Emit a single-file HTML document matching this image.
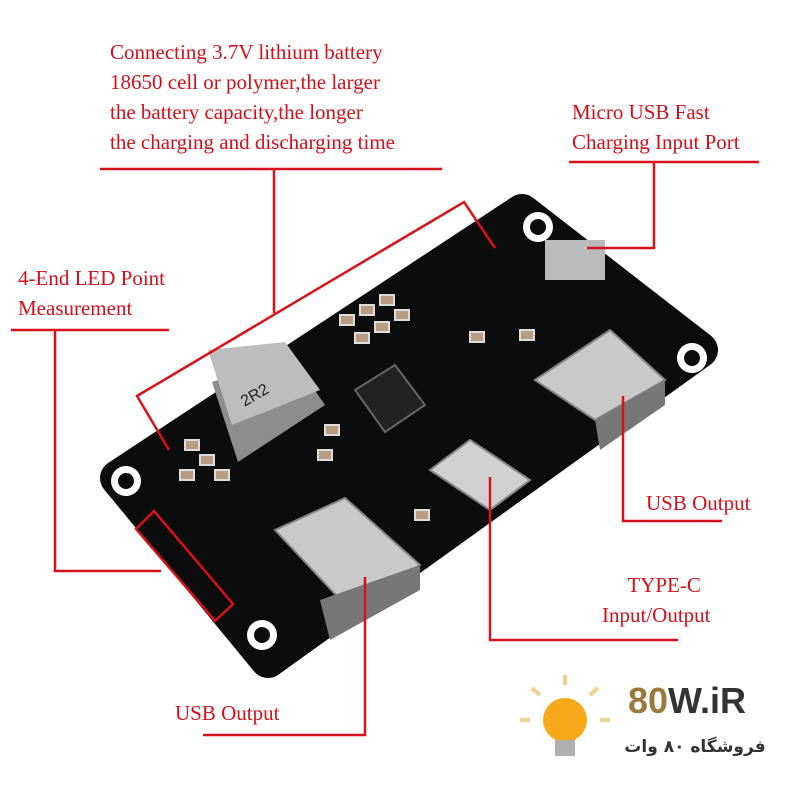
<!DOCTYPE html>
<html><head><meta charset="utf-8"><style>
body{margin:0;background:#fff;width:800px;height:800px;overflow:hidden;position:relative;font-family:"Liberation Serif",serif}
.t{position:absolute;color:#d40f18;font-size:21px;line-height:30px;white-space:nowrap}
</style></head><body>
<svg width="800" height="800" style="position:absolute;left:0;top:0">
<polygon points="522,212 700,350 268,660 118,478" fill="#0c0c0c" stroke="#0c0c0c" stroke-width="36" stroke-linejoin="round"/>
<g fill="#fff"><circle cx="538" cy="227" r="15"/><circle cx="692" cy="358" r="15"/><circle cx="262" cy="635" r="15"/><circle cx="126" cy="481" r="15"/></g>
<g fill="#0c0c0c"><circle cx="538" cy="227" r="8"/><circle cx="692" cy="358" r="8"/><circle cx="262" cy="635" r="8"/><circle cx="126" cy="481" r="8"/></g>
<polygon points="212,382 290,355 325,405 238,462" fill="#8d8d8d"/>
<polygon points="208,350 285,342 320,390 232,425" fill="#bdbdbd"/>
<text x="240" y="400" font-family="Liberation Sans" font-size="16" fill="#222" transform="rotate(-30 255 395)">2R2</text>
<polygon points="355,390 395,365 425,405 385,432" fill="#222" stroke="#666" stroke-width="2"/>
<g fill="#b89c82" stroke="#ddd" stroke-width="2">
<rect x="340" y="315" width="14" height="10"/><rect x="360" y="305" width="14" height="10"/><rect x="380" y="295" width="14" height="10"/><rect x="395" y="310" width="14" height="10"/><rect x="375" y="322" width="14" height="10"/><rect x="355" y="333" width="14" height="10"/>
<rect x="185" y="440" width="14" height="10"/><rect x="200" y="455" width="14" height="10"/><rect x="180" y="470" width="14" height="10"/><rect x="215" y="470" width="14" height="10"/><rect x="325" y="425" width="14" height="10"/><rect x="318" y="450" width="14" height="10"/><rect x="470" y="332" width="14" height="10"/><rect x="520" y="330" width="14" height="10"/><rect x="415" y="510" width="14" height="10"/>
</g>
<polygon points="275,530 345,498 420,565 350,610" fill="#c9c9c9" stroke="#888" stroke-width="2"/>
<polygon points="320,600 420,565 420,590 330,640" fill="#777"/>
<polygon points="535,380 610,330 665,380 595,420" fill="#c9c9c9" stroke="#888" stroke-width="2"/>
<polygon points="595,420 665,380 665,405 600,450" fill="#777"/>
<polygon points="430,470 470,440 530,480 490,510" fill="#d0d0d0" stroke="#888" stroke-width="2"/>
<rect x="545" y="240" width="60" height="40" fill="#bbb"/>
<g stroke="#d8121a" stroke-width="2.5" fill="none">
<polyline points="100,169 442,169"/><polyline points="274,169 274,313"/>
<polyline points="495,248 464,202 137,396 169,450"/>
<polyline points="569,162 759,162"/><polyline points="654,162 654,248 587,248"/>
<polyline points="11,330 169,330"/><polyline points="55,330 55,571 161,571"/>
<polygon points="136,529 154,511 233,604 215,621"/>
<polyline points="623,396 623,521 722,521"/>
<polyline points="490,477 490,640 678,640"/>
<polyline points="365,577 365,735 203,735"/>
</g>
<circle cx="565" cy="720" r="22" fill="#f7a91b"/>
<rect x="555" y="740" width="20" height="16" fill="#b0b0b0"/>
<g stroke="#f0d090" stroke-width="4"><line x1="565" y1="685" x2="565" y2="675"/><line x1="540" y1="695" x2="532" y2="688"/><line x1="590" y1="695" x2="598" y2="688"/><line x1="530" y1="720" x2="520" y2="720"/><line x1="600" y1="720" x2="610" y2="720"/></g>
</svg>
<div class="t" style="left:110px;top:37px">Connecting 3.7V lithium battery<br>18650 cell or polymer,the larger<br>the battery capacity,the longer<br>the charging and discharging time</div>
<div class="t" style="left:572px;top:97px">Micro USB Fast<br>Charging Input Port</div>
<div class="t" style="left:18px;top:263px">4-End LED Point<br>Measurement</div>
<div class="t" style="left:646px;top:488px">USB Output</div>
<div class="t" style="left:602px;top:570px;text-align:center">&nbsp;&nbsp;&nbsp;TYPE-C<br>Input/Output</div>
<div class="t" style="left:175px;top:698px">USB Output</div>
<div style="position:absolute;left:628px;top:680px;font:bold 36px 'Liberation Sans',sans-serif;color:#333"><span style="color:#9a7a3a">80</span>W.iR</div>
<div style="position:absolute;left:620px;top:737px;font:bold 17px 'DejaVu Sans',sans-serif;color:#333;direction:rtl;width:150px;text-align:center;white-space:nowrap">فروشگاه ۸۰ وات</div>
</body></html>
